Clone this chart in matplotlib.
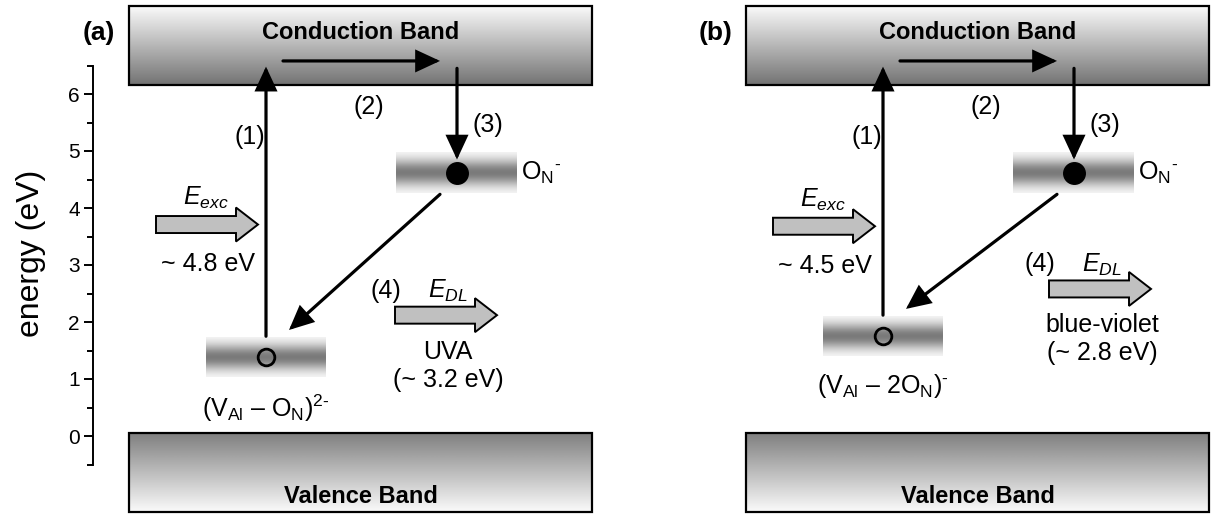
import numpy as np
import matplotlib
matplotlib.use('agg')
import matplotlib.pyplot as plt
from matplotlib.patches import Rectangle, Polygon, FancyArrowPatch, ArrowStyle

plt.rcParams['font.family'] = ['Liberation Sans', 'DejaVu Sans']
plt.rcParams['mathtext.fontset'] = 'custom'
plt.rcParams['mathtext.rm'] = 'Liberation Sans'
plt.rcParams['mathtext.it'] = 'Liberation Sans:italic'
plt.rcParams['mathtext.bf'] = 'Liberation Sans:bold'

# Values (eV)
panel_tags = ['(a)', '(b)']
cb_edge = 6.16
vb_edge = 0.05
on_level = [4.61, 4.61]
complex_level = [1.39, 1.76]
complex_names = [r'(V$_{\rm Al}$ – O$_{\rm N}$)$^{\rm 2\text{-}}$',
                 r'(V$_{\rm Al}$ – 2O$_{\rm N}$)$^{\text{-}}$']
exc_labels = ['~ 4.8 eV', '~ 4.5 eV']
dl_names = ['UVA', 'blue-violet']
dl_labels = ['(~ 3.2 eV)', '(~ 2.8 eV)']
energy_ticks = [0, 1, 2, 3, 4, 5, 6]
minor_ticks = [-0.5, 0.5, 1.5, 2.5, 3.5, 4.5, 5.5, 6.5]

# layout helpers (pixel x, eV y)
PX = 1 / 57.0                 # one pixel in eV
panel_x0 = [129, 746]
box_w = 463
dl_x = [266, 303]             # start of the E_DL arrow, relative to panel
dl_y = [2.12, 2.58]
exc_y = [3.71, 3.68]

fig = plt.figure(figsize=(12.11, 5.14), dpi=100)
ax = fig.add_axes([0, 0, 1, 1])

FS = 18


def band(x0, x1, y0, y1, top, bottom):
    grad = np.linspace(top, bottom, 200).reshape(-1, 1)
    ax.imshow(grad, cmap='gray', vmin=0, vmax=1, aspect='auto',
              extent=(x0, x1, y0, y1), interpolation='bilinear', zorder=1)
    ax.add_patch(Rectangle((x0, y0), x1 - x0, y1 - y0, fill=False,
                           ec='black', lw=1.6, zorder=2))


def level(x0, x1, yc):
    t = np.linspace(-1, 1, 200)
    prof = 1 - 0.52 * np.exp(-(t / 0.65) ** 2)
    h = 20 * PX
    ax.imshow(prof.reshape(-1, 1), cmap='gray', vmin=0, vmax=1, aspect='auto',
              extent=(x0, x1, yc - h, yc + h), interpolation='bilinear', zorder=1)


def line_arrow(p0, p1):
    st = ArrowStyle('-|>', head_length=14, head_width=6.5)
    ax.add_patch(FancyArrowPatch(p0, p1, arrowstyle=st, mutation_scale=1,
                                 lw=2.3, color='black', shrinkA=0, shrinkB=0,
                                 joinstyle='miter', zorder=4))


def block_arrow(x0, x1, yc):
    sh, hh, hl = 8.5 * PX, 17 * PX, 22
    pts = [(x0, yc - sh), (x1 - hl, yc - sh), (x1 - hl, yc - hh), (x1, yc),
           (x1 - hl, yc + hh), (x1 - hl, yc + sh), (x0, yc + sh)]
    ax.add_patch(Polygon(pts, closed=True, fc='#c0c0c0', ec='black', lw=1.4,
                         joinstyle='miter', zorder=3))


for i in range(2):
    x0 = panel_x0[i]
    on = on_level[i]
    cx = complex_level[i]

    # bands
    band(x0, x0 + box_w, cb_edge, cb_edge + 79 * PX, 0.98, 0.45)
    band(x0, x0 + box_w, vb_edge - 79 * PX, vb_edge, 0.5, 0.98)
    ax.text(x0 + box_w / 2, cb_edge + 52 * PX, 'Conduction Band', ha='center',
            va='center', fontsize=17, fontweight='bold', zorder=5)
    ax.text(x0 + box_w / 2, vb_edge - 63 * PX, 'Valence Band', ha='center',
            va='center', fontsize=17, fontweight='bold', zorder=5)
    ax.text(x0 - 30, cb_edge + 52 * PX, panel_tags[i], ha='center', va='center',
            fontsize=19, fontweight='bold')

    # defect levels
    level(x0 + 267, x0 + 388, on)
    level(x0 + 77, x0 + 197, cx)
    ax.plot(x0 + 328, on, 'o', ms=15.5, color='black', zorder=5)
    ax.plot(x0 + 137, cx, 'o', ms=12, mfc='none', mec='black', mew=2, zorder=5)
    ax.text(x0 + 392, on, r'O$_{\rm N}{}^{\text{-}}$', ha='left', va='center', fontsize=FS)
    ax.text(x0 + 137, cx - 36 * PX, complex_names[i], ha='center', va='top', fontsize=FS)

    # transitions
    line_arrow((x0 + 137, cx + 0.36), (x0 + 137, 6.48))
    line_arrow((x0 + 154, 6.58), (x0 + 311, 6.58))
    line_arrow((x0 + 328, 6.45), (x0 + 328, on + 0.24))
    line_arrow((x0 + 311, on - 0.37), (x0 + 160, cx + 0.47))
    ax.text(x0 + 121, 5.25, '(1)', ha='center', va='center', fontsize=FS)
    ax.text(x0 + 240, 5.78, '(2)', ha='center', va='center', fontsize=FS)
    ax.text(x0 + 359, 5.46, '(3)', ha='center', va='center', fontsize=FS)

    # excitation
    block_arrow(x0 + 27, x0 + 129, exc_y[i])
    ax.text(x0 + 77, exc_y[i] + 0.46, r'$E_{exc}$', ha='center', va='center', fontsize=FS)
    ax.text(x0 + 79, exc_y[i] - 0.7, exc_labels[i], ha='center', va='center', fontsize=FS)

    # emission
    dx, dy = x0 + dl_x[i], dl_y[i]
    block_arrow(dx, dx + 102, dy)
    ax.text(dx - 9, dy + 0.43, '(4)', ha='center', va='center', fontsize=FS)
    ax.text(dx + 53, dy + 0.43, r'$E_{DL}$', ha='center', va='center', fontsize=FS)
    ax.text(dx + 53, dy - 0.64, dl_names[i], ha='center', va='center', fontsize=FS)
    ax.text(dx + 53, dy - 1.13, dl_labels[i], ha='center', va='center', fontsize=FS)

# energy axis
for s in ['top', 'right', 'bottom']:
    ax.spines[s].set_visible(False)
ax.spines['left'].set_position(('data', 93))
ax.spines['left'].set_bounds(-0.5, 6.5)
ax.spines['left'].set_linewidth(1.4)
ax.set_yticks(energy_ticks)
ax.set_yticks(minor_ticks, minor=True)
ax.tick_params(axis='y', which='major', direction='out', length=6.5, width=1.4,
               labelsize=15, pad=3)
ax.tick_params(axis='y', which='minor', direction='out', length=4, width=1.4)
ax.set_xticks([])
ax.text(31, 3.2, 'energy (eV)', rotation=90, ha='center', va='center', fontsize=23)

ax.set_xlim(0, 1211)
ax.set_ylim((436 - 514) * PX, 436 * PX)
fig.savefig('out.png', dpi=100)
